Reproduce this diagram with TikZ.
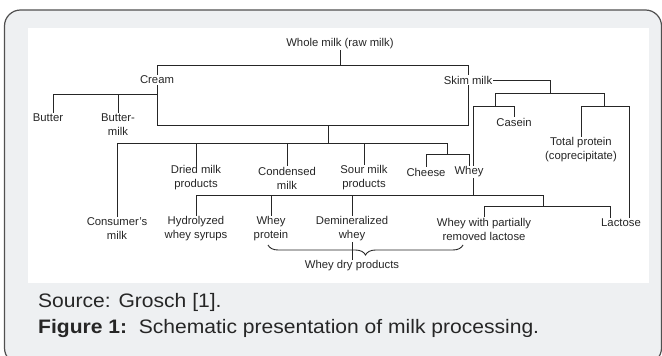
\documentclass[tikz,border=0pt]{standalone}
\usepackage{fontspec}
\setmainfont{Liberation Sans}
\newfontfamily\capfont[FakeStretch=1.08]{Liberation Sans}
\usetikzlibrary{decorations.pathreplacing}
\definecolor{framegray}{HTML}{EEF0F2}
\definecolor{framedraw}{HTML}{505050}
\definecolor{inkc}{HTML}{262626}
\begin{document}
\begin{tikzpicture}[x=1pt,y=-1pt,
  lbl/.style={font=\fontsize{11.3}{14}\selectfont, inner sep=1pt, align=center, text=inkc},
  ln/.style={line width=0.9pt, draw=inkc},
  captxt/.style={font=\capfont\fontsize{19.5}{26}\selectfont, inner sep=0pt, anchor=base west, text=inkc}]
\useasboundingbox (0,0) rectangle (662,356);
\draw[fill=framegray, draw=framedraw, line width=1.2pt, rounded corners=16pt] (4.5,10) rectangle (661.5,364);
\fill[white] (28,28) rectangle (649,283);

% nodes
\node[lbl] (whole) at (340,44) {Whole milk (raw milk)};
\node[lbl] (cream) at (157,80) {Cream};
\node[lbl] (skim) at (468,80) {Skim milk};
\node[lbl] (butter) at (48,118) {Butter};
\node[lbl] (buttermilk) at (118,125) {Butter-\\milk};
\node[lbl] (dried) at (196,178) {Dried milk\\products};
\node[lbl] (condensed) at (287,178) {Condensed\\milk};
\node[lbl] (sour) at (364,178) {Sour milk\\products};
\node[lbl] (cheese) at (426,172) {Cheese};
\node[lbl] (wheyA) at (469,172) {Whey};
\node[lbl] (casein) at (514,122) {Casein};
\node[lbl] (totprot) at (581,150) {Total protein\\(coprecipitate)};
\node[lbl] (consumer) at (117,229) {Consumer's\\milk};
\node[lbl] (hydro) at (196,229) {Hydrolyzed\\whey syrups};
\node[lbl] (wprot) at (271,229) {Whey\\protein};
\node[lbl] (demin) at (352,229) {Demineralized\\whey};
\node[lbl] (wpart) at (484,229) {Whey with partially\\removed lactose};
\node[lbl] (lactose) at (621,223) {Lactose};
\node[lbl] (drypro) at (352,266) {Whey dry products};

% junctions
\coordinate (jTop) at (340,65);
\coordinate (jMid) at (328,125);
\coordinate (jB) at (328,143);
\coordinate (jCW) at (447,143);
\coordinate (jCW2) at (447,154);
\coordinate (jCr) at (157,94);
\coordinate (bt) at ([xshift=5pt]butter.north);
\coordinate (jS1) at (550,93);
\coordinate (jSL) at (495,93);
\coordinate (jSR) at (604,93);
\coordinate (jL) at (473,106);
\coordinate (jR) at (629,106);
\coordinate (jW) at (473,195);
\coordinate (jW2) at (543,195);
\coordinate (jW3) at (543,206);
\coordinate (jLac) at (610,206);

% connectors
\draw[ln] (whole.south) -- (whole.south |- jTop);
\draw[ln] (cream.north) -- (cream.north |- jTop) -- (skim.north |- jTop) -- (skim.north);
\draw[ln] (cream.south) -- (cream.south |- jMid) -- (skim.south |- jMid) -- (skim.south);
\draw[ln] (jMid) -- (jB);
\draw[ln] (consumer.north) -- (consumer.north |- jB) -- (jCW) -- (jCW2);
\draw[ln] (dried.north) -- (dried.north |- jB);
\draw[ln] (condensed.north) -- (condensed.north |- jB);
\draw[ln] (sour.north) -- (sour.north |- jB);
\draw[ln] (cheese.north) -- (cheese.north |- jCW2) -- (wheyA.north |- jCW2) -- (wheyA.north);
% cream branch
\draw[ln] (jCr) -- (bt |- jCr) -- (bt);
\draw[ln] (buttermilk.north) -- (buttermilk.north |- jCr);
% skim branch
\draw[ln] (skim.east) -| (jS1);
\draw[ln] (jSL |- jL) -- (jSL) -- (jSR) -- (jSR |- jR);
\draw[ln] (wheyA.north -| jL) -- (jL) -- (casein.north |- jL) -- (casein.north);
\draw[ln] (totprot.north) -- (totprot.north |- jR) -- (jR) -- (jR |- lactose.north);
% whey branch
\draw[ln] (wheyA.south -| jW) -- (jW);
\draw[ln] (hydro.north) -- (hydro.north |- jW) -- (jW2) -- (jW3);
\draw[ln] (wprot.north) -- (wprot.north |- jW);
\draw[ln] (demin.north) -- (demin.north |- jW);
\draw[ln] (wpart.north) -- (wpart.north |- jW3) -- (jLac) -- (jLac |- lactose.north);
% brace
\draw[ln, decorate, decoration={brace, mirror, amplitude=10pt}] (268,245) -- (463,245);
\draw[ln] (demin.south) -- (drypro.north);

% caption
\node[captxt] (src) at (38,307) {Source: Grosch [1].};
\node[captxt] (fig) at (38,333) {\textbf{Figure 1:}\ \ Schematic presentation of milk processing.};
\end{tikzpicture}
\end{document}
